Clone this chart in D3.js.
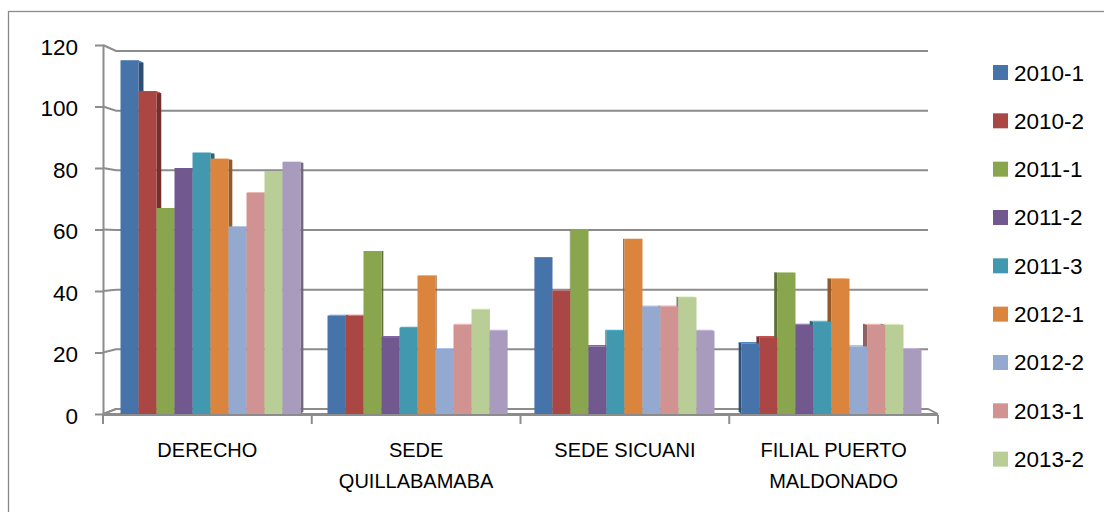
<!DOCTYPE html>
<html>
<head>
<meta charset="utf-8">
<script src="https://cdn.jsdelivr.net/npm/d3@7"></script>
<style>
  html, body { margin: 0; padding: 0; background: #ffffff; }
  svg { display: block; }
  text { font-family: "Liberation Sans", Arial, sans-serif; fill: #000; }
</style>
</head>
<body>
<svg id="chart" width="1104" height="512"></svg>
<script>
// ---- data ----
const categories = ["DERECHO", "SEDE QUILLABAMABA", "SEDE SICUANI", "FILIAL PUERTO MALDONADO"];
const seriesNames = ["2010-1", "2010-2", "2011-1", "2011-2", "2011-3", "2012-1", "2012-2", "2013-1", "2013-2", "2014-1"];
const v2010_1 = [115, 32, 51, 23];
const v2010_2 = [105, 32, 40, 25];
const v2011_1 = [67, 53, 60, 46];
const v2011_2 = [80, 25, 22, 29];
const v2011_3 = [85, 28, 27, 30];
const v2012_1 = [83, 45, 57, 44];
const v2012_2 = [61, 21, 35, 22];
const v2013_1 = [72, 29, 35, 29];
const v2013_2 = [79, 34, 38, 29];
const v2014_1 = [82, 27, 27, 21];
const seriesValues = [v2010_1, v2010_2, v2011_1, v2011_2, v2011_3, v2012_1, v2012_2, v2013_1, v2013_2, v2014_1];
const yTicks = [0, 20, 40, 60, 80, 100, 120];
const colors = ["#4673AA", "#AA4643", "#89A54E", "#71588F", "#4198AF", "#DB843D", "#93A9CF", "#D19392", "#B9CD96", "#A99BBD"];

// ---- layout ----
const W = 1104, H = 512;
const svg = d3.select("#chart");
const gridColor = "#8c8c8c";

// front plane (axis) and back wall scales
const yFront = d3.scaleLinear().domain([0, 120]).range([414, 45]);
const yBack = d3.scaleLinear().domain([0, 120]).range([409, 51]);
const xFrontAxis = d3.scaleBand().domain(categories).range([103, 938]);
const backLeft = 116, backRight = 928;
const xBars = d3.scaleBand().domain(categories).range([107, 935]);
const xInner = d3.scaleBand().domain(seriesNames).range([13.5, 193.5]);

// perspective for bar depth faces
const vx = 522, vy = 246, depthK = 0.013;
const proj = (x, y) => [x + (vx - x) * depthK, y + (vy - y) * depthK];

// outer chart border
svg.append("rect")
  .attr("x", 8.5).attr("y", 11.5).attr("width", 1300).attr("height", 700)
  .attr("fill", "none").attr("stroke", "#8a8a8a").attr("stroke-width", 1.3);

// floor
svg.append("path")
  .attr("d", `M${xFrontAxis.range()[0]},${yFront(0)} L${backLeft},${yBack(0)} L${backRight},${yBack(0)} L${xFrontAxis.range()[1]},${yFront(0)} Z`)
  .attr("fill", "#ffffff").attr("stroke", gridColor).attr("stroke-width", 1.8);

// gridlines on back wall with connectors to the front axis
svg.append("g").selectAll("path").data(yTicks).join("path")
  .attr("d", d => `M103,${yFront(d)} L${backLeft},${yBack(d)} L${backRight},${yBack(d)}`)
  .attr("fill", "none").attr("stroke", gridColor).attr("stroke-width", 2);

// bars
const bars = [];
categories.forEach((c, ci) => {
  seriesNames.forEach((s, si) => {
    const x0 = xBars(c) + xInner(s);
    const x1 = x0 + xInner.bandwidth();
    bars.push({ c, s, v: seriesValues[si][ci], x0, x1, color: colors[si] });
  });
});

const faces = svg.append("g");
bars.forEach(b => {
  const yT = yFront(b.v), yB = yFront(0);
  const cx = (b.x0 + b.x1) / 2;
  const sideX = cx < vx ? b.x1 : b.x0;
  const pT = proj(sideX, yT), pB = proj(sideX, yB);
  faces.append("path")
    .attr("d", `M${sideX},${yT} L${pT[0]},${pT[1]} L${pB[0]},${pB[1]} L${sideX},${yB} Z`)
    .attr("fill", d3.color(b.color).darker(1.1));
  const a = proj(b.x0, yT), bb = proj(b.x1, yT);
  faces.append("path")
    .attr("d", `M${b.x0},${yT} L${a[0]},${a[1]} L${bb[0]},${bb[1]} L${b.x1},${yT} Z`)
    .attr("fill", d3.color(b.color).brighter(0.4));
});

svg.append("g").selectAll("rect").data(bars).join("rect")
  .attr("x", d => d.x0).attr("width", d => d.x1 - d.x0)
  .attr("y", d => yFront(d.v)).attr("height", d => yFront(0) - yFront(d.v))
  .attr("fill", d => d.color);

// y axis
const yAxis = svg.append("g").attr("transform", "translate(103,0)")
  .call(d3.axisLeft(yFront).tickValues(yTicks).tickSize(8).tickSizeOuter(0).tickPadding(17));
yAxis.attr("font-size", null).attr("font-family", null);
yAxis.select(".domain").attr("stroke", gridColor).attr("stroke-width", 2);
yAxis.selectAll(".tick line").attr("stroke", gridColor).attr("stroke-width", 2);
yAxis.selectAll(".tick text")
  .style("font-family", "'Liberation Sans', Arial, sans-serif")
  .style("font-size", "22.5px").attr("dy", "0.42em").attr("fill", "#000");

// x axis front edge and boundary ticks
const xBase = yFront(0) + 1;
svg.append("line")
  .attr("x1", xFrontAxis.range()[0]).attr("x2", xFrontAxis.range()[1])
  .attr("y1", xBase).attr("y2", xBase)
  .attr("stroke", gridColor).attr("stroke-width", 2);
const boundaries = categories.map(c => xFrontAxis(c)).concat([xFrontAxis.range()[1]]);
svg.append("g").selectAll("line").data(boundaries).join("line")
  .attr("x1", d => d).attr("x2", d => d)
  .attr("y1", xBase).attr("y2", xBase + 9)
  .attr("stroke", gridColor).attr("stroke-width", 2);

// category labels (wrapped)
const catG = svg.append("g");
const maxW = xFrontAxis.bandwidth() - 12;
categories.forEach(c => {
  const t = catG.append("text")
    .attr("text-anchor", "middle").style("font-size", "20px")
    .attr("x", xFrontAxis(c) + xFrontAxis.bandwidth() / 2).attr("y", 457);
  const words = c.split(" ");
  let lines = [], cur = [];
  const probe = catG.append("text").style("font-size", "20px");
  words.forEach(w => {
    const trial = cur.concat([w]).join(" ");
    probe.text(trial);
    if (cur.length && probe.node().getComputedTextLength() > maxW) {
      lines.push(cur.join(" ")); cur = [w];
    } else cur.push(w);
  });
  lines.push(cur.join(" "));
  probe.remove();
  lines.forEach((ln, i) => {
    t.append("tspan").attr("x", xFrontAxis(c) + xFrontAxis.bandwidth() / 2)
      .attr("dy", i === 0 ? 0 : 31).text(ln);
  });
});

// legend (entries that do not fit in the chart area are dropped, as in the original)
const legStep = 48.33, legTop = 65, sw = 15;
const legendItems = seriesNames.map((s, i) => ({ s, i }))
  .filter(d => legTop + d.i * legStep + sw < H);
const leg = svg.append("g").selectAll("g").data(legendItems).join("g")
  .attr("transform", d => `translate(993,${legTop + d.i * legStep})`);
leg.append("rect").attr("width", sw).attr("height", sw).attr("fill", d => colors[d.i]);
leg.append("text").attr("x", 21).attr("y", 15.5).style("font-size", "22.5px").text(d => d.s);
</script>
</body>
</html>
